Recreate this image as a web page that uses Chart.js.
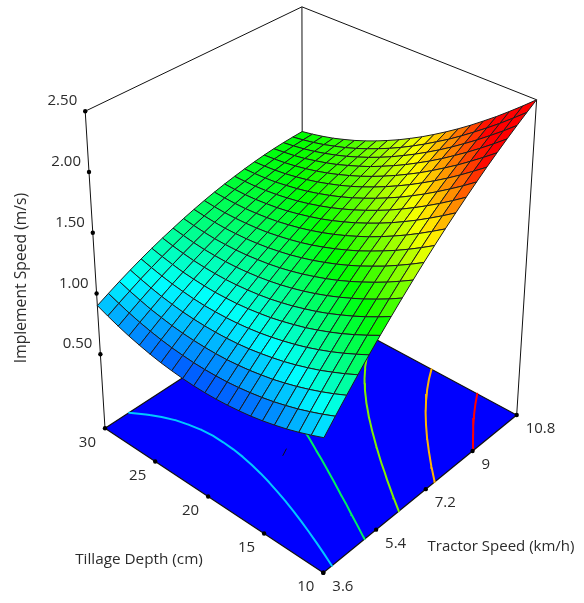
<!DOCTYPE html>
<html><head><meta charset="utf-8">
<style>html,body{margin:0;padding:0;background:#fff}canvas{display:block}</style>
<script src="https://cdn.jsdelivr.net/npm/chart.js@4"></script>
</head><body><canvas id="c" width="584" height="603"></canvas>
<script>
// ---- data ----
const tractorSpeeds=[3.6,3.96,4.32,4.68,5.04,5.4,5.76,6.12,6.48,6.84,7.2,7.56,7.92,8.28,8.64,9,9.36,9.72,10.08,10.44,10.8];
const tillageDepths=[10,11,12,13,14,15,16,17,18,19,20,21,22,23,24,25,26,27,28,29,30];
const zDepth10=[.920,1.021,1.120,1.217,1.311,1.403,1.492,1.579,1.664,1.747,1.827,1.905,1.980,2.053,2.124,2.193,2.259,2.323,2.384,2.443,2.500];
const zDepth11=[.882,.980,1.076,1.170,1.262,1.351,1.437,1.521,1.604,1.684,1.761,1.837,1.909,1.979,2.047,2.114,2.177,2.238,2.296,2.353,2.407];
const zDepth12=[.847,.943,1.036,1.128,1.216,1.303,1.386,1.468,1.547,1.625,1.699,1.772,1.842,1.909,1.975,2.038,2.099,2.157,2.213,2.266,2.318];
const zDepth13=[.816,.909,1.000,1.088,1.174,1.258,1.339,1.418,1.495,1.569,1.641,1.711,1.778,1.843,1.906,1.966,2.024,2.080,2.133,2.184,2.232];
const zDepth14=[.790,.880,.968,1.054,1.137,1.218,1.297,1.373,1.447,1.519,1.588,1.655,1.719,1.781,1.841,1.899,1.955,2.008,2.058,2.106,2.152];
const zDepth15=[.767,.854,.940,1.023,1.103,1.182,1.257,1.331,1.402,1.471,1.538,1.602,1.663,1.723,1.780,1.836,1.888,1.938,1.986,2.031,2.074];
const zDepth16=[.748,.833,.915,.996,1.074,1.149,1.222,1.293,1.361,1.428,1.491,1.553,1.612,1.668,1.723,1.776,1.825,1.873,1.918,1.960,2.001];
const zDepth17=[.734,.816,.896,.974,1.049,1.122,1.192,1.259,1.325,1.389,1.450,1.509,1.565,1.619,1.671,1.721,1.768,1.813,1.855,1.895,1.932];
const zDepth18=[.723,.802,.879,.955,1.027,1.097,1.164,1.229,1.293,1.354,1.412,1.468,1.521,1.573,1.622,1.669,1.713,1.755,1.795,1.832,1.867];
const zDepth19=[.716,.792,.867,.939,1.009,1.076,1.141,1.203,1.264,1.322,1.378,1.431,1.482,1.530,1.577,1.621,1.663,1.702,1.739,1.773,1.805];
const zDepth20=[.713,.787,.858,.928,.995,1.060,1.121,1.181,1.239,1.295,1.347,1.398,1.446,1.492,1.535,1.577,1.616,1.653,1.686,1.718,1.748];
const zDepth21=[.714,.785,.854,.921,.985,1.047,1.106,1.163,1.218,1.271,1.321,1.369,1.414,1.457,1.498,1.537,1.573,1.607,1.638,1.667,1.694];
const zDepth22=[.719,.787,.854,.918,.979,1.038,1.095,1.149,1.201,1.252,1.299,1.344,1.387,1.427,1.465,1.501,1.535,1.566,1.594,1.621,1.645];
const zDepth23=[.728,.794,.857,.919,.977,1.034,1.087,1.139,1.189,1.236,1.281,1.323,1.363,1.400,1.436,1.470,1.500,1.529,1.554,1.578,1.599];
const zDepth24=[.740,.803,.864,.923,.978,1.032,1.083,1.132,1.179,1.224,1.265,1.305,1.342,1.377,1.410,1.441,1.469,1.494,1.517,1.538,1.557];
const zDepth25=[.757,.817,.875,.931,.984,1.036,1.084,1.130,1.174,1.216,1.255,1.292,1.326,1.359,1.389,1.417,1.442,1.465,1.485,1.503,1.519];
const zDepth26=[.778,.835,.891,.944,.995,1.043,1.088,1.132,1.173,1.213,1.249,1.283,1.315,1.344,1.372,1.397,1.419,1.440,1.457,1.473,1.486];
const zDepth27=[.802,.857,.909,.960,1.008,1.053,1.096,1.137,1.175,1.212,1.246,1.277,1.306,1.333,1.357,1.380,1.400,1.417,1.432,1.445,1.455];
const zDepth28=[.831,.883,.933,.981,1.026,1.069,1.109,1.147,1.183,1.217,1.247,1.276,1.302,1.326,1.348,1.368,1.385,1.400,1.412,1.422,1.430];
const zDepth29=[.864,.913,.960,1.006,1.048,1.088,1.125,1.161,1.194,1.225,1.253,1.279,1.303,1.324,1.343,1.360,1.375,1.387,1.396,1.403,1.408];
const zDepth30=[.900,.946,.991,1.033,1.073,1.110,1.145,1.177,1.208,1.236,1.262,1.285,1.306,1.324,1.341,1.355,1.367,1.376,1.383,1.387,1.390];
const implementSpeed=[zDepth10,zDepth11,zDepth12,zDepth13,zDepth14,zDepth15,zDepth16,zDepth17,zDepth18,zDepth19,zDepth20,zDepth21,zDepth22,zDepth23,zDepth24,zDepth25,zDepth26,zDepth27,zDepth28,zDepth29,zDepth30];
const contourLevels=[1.0,1.3,1.6,1.9,2.2];
const contourColours=['#00c8ff','#00f060','#80f000','#ffb400','#ff0000'];
const speedTicks=[3.6,5.4,7.2,9,10.8];
const speedTickLabels=['3.6','5.4','7.2','9','10.8'];
const depthTicks=[10,15,20,25,30];
const depthTickLabels=['10','15','20','25','30'];
const zTicks=[0.5,1,1.5,2,2.5];
const zTickLabels=['0.50','1.00','1.50','2.00','2.50'];
const stubSpeed=[5.8,6.05];
const stubDepth=[19.1,19.4];

// ---- camera: where the box corners fall on the page ----
const zFloor=-0.11, zTop=2.5, colourLow=0.6, colourHigh=2.2;
const floorFront=[323.3,572.7], floorRight=[516.7,415], floorBack=[302.5,300], floorLeft=[105,428.3];
const topLeft=[84.7,109.7], topRight=[536.7,100], topBack=[302.3,8];
function camera(){
  const [p0,p1,p2,p3]=[floorFront,floorRight,floorBack,floorLeft];
  const sx=p0[0]-p1[0]+p2[0]-p3[0], sy=p0[1]-p1[1]+p2[1]-p3[1];
  const dx1=p1[0]-p2[0],dx2=p3[0]-p2[0],dy1=p1[1]-p2[1],dy2=p3[1]-p2[1];
  const det=dx1*dy2-dx2*dy1;
  const g=(sx*dy2-dx2*sy)/det,h=(dx1*sy-sx*dy1)/det;
  const a=p1[0]-p0[0]+g*p1[0],b=p3[0]-p0[0]+h*p3[0],c=p0[0];
  const d=p1[1]-p0[1]+g*p1[1],e=p3[1]-p0[1]+h*p3[1],f=p0[1];
  const rows=[];const rhs=[];
  [[0,1,topLeft],[1,0,topRight],[1,1,topBack]].forEach(([u,v,p])=>{
    const X=a*u+b*v+c,Y=d*u+e*v+f,T=g*u+h*v+1;
    rows.push([1,0,-p[0]]);rhs.push(p[0]*T-X);
    rows.push([0,1,-p[1]]);rhs.push(p[1]*T-Y);
  });
  const N=[[0,0,0,0],[0,0,0,0],[0,0,0,0]];
  rows.forEach((r,i)=>{for(let m=0;m<3;m++){for(let n=0;n<3;n++)N[m][n]+=r[m]*r[n];N[m][3]+=r[m]*rhs[i];}});
  for(let m=0;m<3;m++){
    let best=m;for(let q=m+1;q<3;q++)if(Math.abs(N[q][m])>Math.abs(N[best][m]))best=q;
    [N[m],N[best]]=[N[best],N[m]];
    for(let q=0;q<3;q++){if(q===m)continue;const t=N[q][m]/N[m][m];for(let n=m;n<4;n++)N[q][n]-=t*N[m][n];}
  }
  return {a,b,c,d,e,f,g,h,wx:N[0][3]/N[0][0],wy:N[1][3]/N[1][1],wt:N[2][3]/N[2][2]};
}
const cam=camera();
const sMin=tractorSpeeds[0],sMax=tractorSpeeds[20],dMin=tillageDepths[0],dMax=tillageDepths[20];
function plane(u,v,w){
  const T=cam.g*u+cam.h*v+1+w*cam.wt;
  return {x:(cam.a*u+cam.b*v+cam.c+w*cam.wx)/T,y:(cam.d*u+cam.e*v+cam.f+w*cam.wy)/T};
}
// heights run evenly between the floor point and the top point, as the axis ticks do
function project(speed,depth,z){
  const u=(speed-sMin)/(sMax-sMin),v=(depth-dMin)/(dMax-dMin),w=(z-zFloor)/(zTop-zFloor);
  const lo=plane(u,v,0),hi=plane(u,v,1);
  return {x:lo.x+w*(hi.x-lo.x),y:lo.y+w*(hi.y-lo.y)};
}
function jet(f){
  f=Math.max(0,Math.min(1,f));let r,g,b;
  if(f<.25){r=0;g=4*f;b=1}else if(f<.5){r=0;g=1;b=1-(f-.25)*4}else if(f<.75){r=(f-.5)*4;g=1;b=0}else{r=1;g=1-(f-.75)*4;b=0}
  return `rgb(${Math.round(r*255)},${Math.round(g*255)},${Math.round(b*255)})`;
}
const colourOf=z=>jet((z-colourLow)/(colourHigh-colourLow));
const BLACK='#111';
function wire(points,width){return {data:points,showLine:true,fill:false,borderColor:BLACK,borderWidth:width||1,pointRadius:0,tension:0,clip:false};}
const layers=[]; // painted first to last

// floor
layers.push({data:[project(sMin,dMin,zFloor),project(sMax,dMin,zFloor),project(sMax,dMax,zFloor),project(sMin,dMax,zFloor),project(sMin,dMin,zFloor)],
  showLine:true,fill:'shape',backgroundColor:'#0000ff',borderColor:BLACK,borderWidth:1.2,pointRadius:0,tension:0,clip:false});
// box edges
layers.push(wire([project(sMin,dMax,zFloor),project(sMin,dMax,zTop),project(sMax,dMax,zTop),project(sMax,dMin,zTop),project(sMax,dMin,zFloor)]));
layers.push(wire([project(sMax,dMax,zTop),project(sMax,dMax,zFloor)]));
// stray mark on the floor
layers.push(wire(stubSpeed.map((s,i)=>project(s,stubDepth[i],zFloor))));
// contours on the floor
contourLevels.forEach((level,li)=>{
  const pts=[];
  for(let j=0;j<20;j++)for(let k=0;k<20;k++){
    const corners=[[k,j],[k+1,j],[k+1,j+1],[k,j+1]];
    const hits=[];
    for(let e=0;e<4;e++){
      const A=corners[e],B=corners[(e+1)%4];
      const za=implementSpeed[A[1]][A[0]],zb=implementSpeed[B[1]][B[0]];
      if((za<level)!==(zb<level)){
        const t=(level-za)/(zb-za);
        hits.push(project(tractorSpeeds[A[0]]+t*(tractorSpeeds[B[0]]-tractorSpeeds[A[0]]),tillageDepths[A[1]]+t*(tillageDepths[B[1]]-tillageDepths[A[1]]),zFloor));
      }
    }
    if(hits.length>=2){pts.push(hits[0],hits[1],{x:NaN,y:NaN});}
    if(hits.length===4){pts.push(hits[2],hits[3],{x:NaN,y:NaN});}
  }
  layers.push({data:pts,showLine:true,fill:false,borderColor:contourColours[li],borderWidth:2,borderCapStyle:'round',pointRadius:0,tension:0,spanGaps:false,clip:false});
});
// surface, far cells first
for(let j=19;j>=0;j--)for(let k=19;k>=0;k--){
  const s0=tractorSpeeds[k],s1=tractorSpeeds[k+1],d0=tillageDepths[j],d1=tillageDepths[j+1];
  const z00=implementSpeed[j][k],z10=implementSpeed[j][k+1],z11=implementSpeed[j+1][k+1],z01=implementSpeed[j+1][k];
  layers.push({data:[project(s0,d0,z00),project(s1,d0,z10),project(s1,d1,z11),project(s0,d1,z01),project(s0,d0,z00)],
    showLine:true,fill:'shape',backgroundColor:colourOf((z00+z10+z11+z01)/4),borderColor:'#1c1c1c',borderWidth:1,pointRadius:0,tension:0,clip:false});
}
// tick dots
const dots=[...depthTicks.map(d=>project(sMin,d,zFloor)),...speedTicks.map(s=>project(s,dMin,zFloor)),...zTicks.map(z=>project(sMin,dMax,z))];
layers.push({data:dots,showLine:false,pointRadius:2.2,pointBackgroundColor:'#000',pointBorderWidth:0,clip:false});

// text
const textPlugin={id:'labels',afterDatasetsDraw(chart){
  const ctx=chart.ctx,xs=chart.scales.x,ys=chart.scales.y;
  const put=(t,px,py,align,rot,size)=>{ctx.save();ctx.translate(xs.getPixelForValue(px),ys.getPixelForValue(py));if(rot)ctx.rotate(rot);ctx.textAlign=align;ctx.textBaseline='middle';ctx.fillStyle='#2b2b2b';ctx.font=(size||15)+'px "Open Sans"';ctx.fillText(t,0,0);ctx.restore();};
  zTicks.forEach((z,i)=>{const p=project(sMin,dMax,z);put(zTickLabels[i],p.x-8,p.y-10,'right');});
  depthTicks.forEach((d,i)=>{const p=project(sMin,d,zFloor);put(depthTickLabels[i],p.x-9,p.y+14,'right');});
  speedTicks.forEach((s,i)=>{const p=project(s,dMin,zFloor);put(speedTickLabels[i],p.x+9,p.y+14,'left');});
  put('Implement Speed (m/s)',22,278,'center',-Math.PI/2,15.7);
  put('Tillage Depth (cm)',139,560,'center',0,15.3);
  put('Tractor Speed (km/h)',501,547,'center',0,15);
}};

new Chart(document.getElementById('c'),{
  type:'scatter',
  data:{datasets:layers.slice().reverse()},
  plugins:[textPlugin],
  options:{responsive:false,animation:false,devicePixelRatio:1,
    layout:{padding:0,autoPadding:false},
    scales:{x:{type:'linear',min:0,max:584,display:false},y:{type:'linear',min:0,max:603,reverse:true,display:false}},
    plugins:{legend:{display:false},tooltip:{enabled:false},filler:{drawTime:'beforeDatasetDraw',propagate:false}}}
});
</script></body></html>
